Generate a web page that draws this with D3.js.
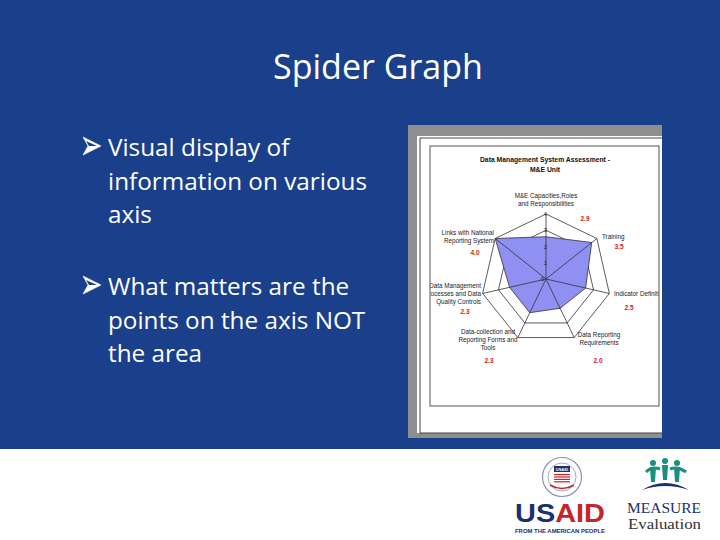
<!DOCTYPE html>
<html><head><meta charset="utf-8">
<script src="https://cdn.jsdelivr.net/npm/d3@7"></script>
<style>html,body{margin:0;padding:0;background:#fff;}svg{display:block;}</style>
</head><body>
<svg id="c" width="720" height="540"></svg>
<script>
// ---- data ----
const axes = ["M&E Capacities,Roles|and Responsibilities","Training","Indicator Definitions","Data Reporting|Requirements","Data-collection and|Reporting Forms and|Tools","Data Management|Processes and Data|Quality Controls","Links with National|Reporting System"];
const values = [2.6, 3.6, 2.5, 2.0, 2.3, 2.3, 4.0];
const valueLabels = ["2.9","3.5","2.5","2.0","2.3","2.3","4.0"];
const ticks = [0,1,2,3,4];
const bullets = [["Visual display of","information on various","axis"],["What matters are the","points on the axis NOT","the area"]];
const slideTitle = "Spider Graph";
const chartTitle = ["Data Management System Assessment -","M&E Unit"];

const svg = d3.select("#c");
const BLUE = "#1a3f8b";
svg.append("rect").attr("width",720).attr("height",449).attr("fill",BLUE);
svg.append("rect").attr("y",449).attr("width",720).attr("height",91).attr("fill","#fff");

svg.append("text").attr("x",378).attr("y",79).attr("text-anchor","middle")
  .attr("font-family","Open Sans, sans-serif").attr("font-size",34).attr("fill","#fff").text(slideTitle);

bullets.forEach((lines,bi)=>{
  const y0 = bi===0 ? 156 : 295;
  const by = y0-10;
  svg.append("path").attr("d",`M83,${by-9}L101,${by}L83,${by+9}L88,${by}Z`).attr("fill","#fff").attr("stroke","#fff").attr("stroke-width",0.6).attr("stroke-linejoin","round");
  svg.append("path").attr("d",`M86,${by-5}L97,${by}L89,${by}Z`).attr("fill",BLUE);
  lines.forEach((l,i)=>{
    svg.append("text").attr("x",108).attr("y",y0+i*33.5).attr("font-family","Open Sans, sans-serif")
      .attr("font-size",24.3).attr("fill","#fff").text(l);
  });
});

// ---- embedded chart image frame ----
const g = svg.append("g");
g.append("rect").attr("x",408).attr("y",125).attr("width",254).attr("height",313).attr("fill","#8e8e8e");
g.append("rect").attr("x",417).attr("y",136).attr("width",245).attr("height",297).attr("fill","#fff");
g.append("path").attr("d","M662,138H420V433H662").attr("fill","none").attr("stroke","#444").attr("stroke-width",1);
g.append("rect").attr("x",430).attr("y",146).attr("width",229).attr("height",260).attr("fill","#fff").attr("stroke","#555").attr("stroke-width",1);

const FF = "Liberation Sans, Arial, sans-serif";
chartTitle.forEach((t,i)=>{
  g.append("text").attr("x",545).attr("y",162+i*10).attr("text-anchor","middle").attr("font-family",FF)
    .attr("font-weight","bold").attr("font-size",6.8).attr("fill","#111").text(t);
});

const cx=546, cy=279;
const r = d3.scaleLinear().domain([0,4]).range([0,65]);
const n = axes.length;
const ang = d3.scaleLinear().domain([0,n]).range([0,2*Math.PI]);
const pt = (i,v)=>[cx+r(v)*Math.sin(ang(i)), cy-r(v)*Math.cos(ang(i))];

svg.append("clipPath").attr("id","cl").append("rect").attr("x",430.5).attr("y",146.5).attr("width",228).attr("height",259);
const cg = g.append("g").attr("clip-path","url(#cl)");

const line = d3.line();
// rings
ticks.slice(1).forEach(t=>{
  cg.append("path").attr("d",line(d3.range(n).map(i=>pt(i,t)))+"Z").attr("fill","none").attr("stroke","#333").attr("stroke-width",0.8);
});
// polygon
cg.append("path").attr("d",line(values.map((v,i)=>pt(i,v)))+"Z").attr("fill","#8f90f2").attr("stroke","#333").attr("stroke-width",0.8);
// spokes
d3.range(n).forEach(i=>{
  const p=pt(i,4);
  cg.append("line").attr("x1",cx).attr("y1",cy).attr("x2",p[0]).attr("y2",p[1]).attr("stroke","#333").attr("stroke-width",0.8);
});
// tick labels
ticks.forEach(t=>{
  cg.append("text").attr("x",cx+(t===0?-2:1)).attr("y",cy-r(t)+2).attr("text-anchor","end").attr("font-family",FF)
    .attr("font-size",6).attr("fill","#222").text(t);
});
// axis labels
const labPos = [
  {x:546,y:198,a:"middle"},{x:602,y:239,a:"start"},{x:614,y:296,a:"start"},
  {x:599,y:337,a:"middle"},{x:488,y:334,a:"middle"},{x:481,y:288,a:"end"},{x:494,y:235,a:"end"}
];
const valPos = [[585,221],[619,249],[629,310],[598,363],[489,363],[465,314],[475,255]];
axes.forEach((a,i)=>{
  const lines=a.split("|");
  lines.forEach((l,j)=>{
    cg.append("text").attr("x",labPos[i].x).attr("y",labPos[i].y+j*7.8).attr("text-anchor",labPos[i].a)
      .attr("font-family",FF).attr("font-size",6.3).attr("fill","#222").text(l);
  });
  cg.append("text").attr("x",valPos[i][0]).attr("y",valPos[i][1]).attr("text-anchor","middle").attr("font-family",FF)
    .attr("font-weight","bold").attr("font-size",6.5).attr("fill","#d0202a").text(valueLabels[i]);
});

// ---- USAID logo ----
const NAVY="#1c2f6e", RED="#c4252b";
const lg = svg.append("g");
lg.append("circle").attr("cx",562).attr("cy",477).attr("r",19.5).attr("fill","#fff").attr("stroke","#8a93b5").attr("stroke-width",1.2);
lg.append("circle").attr("cx",562).attr("cy",477).attr("r",14).attr("fill","#fff").attr("stroke","#8a93b5").attr("stroke-width",0.8);
lg.append("rect").attr("x",554).attr("y",466).attr("width",16).attr("height",6).attr("fill",NAVY);
lg.append("text").attr("x",562).attr("y",471).attr("text-anchor","middle").attr("font-family",FF).attr("font-size",4).attr("font-weight","bold").attr("fill","#fff").text("USAID");
[0,1,2,3].forEach(k=>lg.append("rect").attr("x",554).attr("y",474+k*2.4).attr("width",16).attr("height",1.2).attr("fill",RED));
lg.append("path").attr("d","M550,485 Q562,492 574,485").attr("fill","none").attr("stroke",RED).attr("stroke-width",1.5);
const ut = lg.append("text").attr("x",515).attr("y",522).attr("font-family",FF).attr("font-weight","bold").attr("font-size",26).attr("textLength",90).attr("lengthAdjust","spacingAndGlyphs");
ut.append("tspan").attr("fill",NAVY).text("US");
ut.append("tspan").attr("fill",RED).text("AID");
lg.append("text").attr("x",515).attr("y",533).attr("font-family",FF).attr("font-weight","bold").attr("font-size",5.4).attr("fill",NAVY)
  .attr("textLength",90).attr("lengthAdjust","spacingAndGlyphs").text("FROM THE AMERICAN PEOPLE");

// ---- MEASURE logo ----
const TEAL="#17907f";
const mg = svg.append("g");
[[653,463],[665,461],[677,463]].forEach(([x,y])=>{
  mg.append("circle").attr("cx",x).attr("cy",y).attr("r",3).attr("fill",TEAL);
  mg.append("path").attr("d",`M${x-3},${y+4}L${x+3},${y+4}L${x+2},${y+19}L${x-2},${y+19}Z`).attr("fill",TEAL);
});
mg.append("path").attr("d","M646,472 Q652,466 660,469 M670,469 Q678,466 686,472").attr("fill","none").attr("stroke",TEAL).attr("stroke-width",3);
mg.append("path").attr("d","M642,490 Q665,476 689,490 Q665,482 642,490Z").attr("fill",NAVY);
mg.append("text").attr("x",627).attr("y",513).attr("font-family","Liberation Serif, serif").attr("font-size",15).attr("fill",NAVY)
  .attr("textLength",74).attr("lengthAdjust","spacingAndGlyphs").text("MEASURE");
mg.append("text").attr("x",628).attr("y",529).attr("font-family","Liberation Serif, serif").attr("font-size",15).attr("fill","#333")
  .attr("textLength",73).attr("lengthAdjust","spacingAndGlyphs").text("Evaluation");
</script>
</body></html>
